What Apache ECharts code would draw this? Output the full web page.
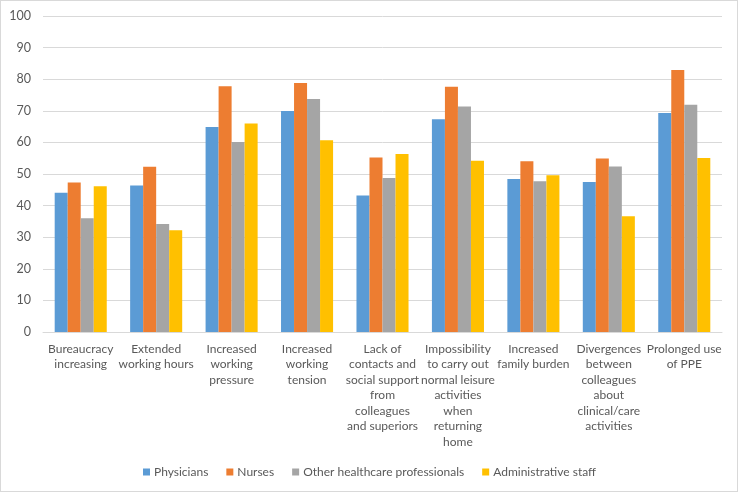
<!DOCTYPE html>
<html><head><meta charset="utf-8">
<script src="https://cdn.jsdelivr.net/npm/echarts@6/dist/echarts.min.js"></script>
<style>html,body{margin:0;padding:0;background:#fff}#c{width:738px;height:492px;box-sizing:border-box;border:1px solid #d9d9d9}</style>
</head><body><div id="c"></div>
<script>
const categories = ["Bureaucracy\nincreasing","Extended\nworking hours","Increased\nworking\npressure","Increased\nworking\ntension","Lack of\ncontacts and\nsocial support\nfrom\ncolleagues\nand superiors","Impossibility\nto carry out\nnormal leisure\nactivities\nwhen\nreturning\nhome","Increased\nfamily burden","Divergences\nbetween\ncolleagues\nabout\nclinical/care\nactivities","Prolonged use\nof PPE"];
const physicians = [44.1,46.4,64.9,69.9,43.2,67.3,48.4,47.5,69.3];
const nurses = [47.3,52.3,77.8,78.8,55.2,77.6,54.0,54.9,82.9];
const otherHP = [36.0,34.2,60.1,73.7,48.7,71.4,47.7,52.4,71.9];
const adminStaff = [46.1,32.2,66.0,60.7,56.3,54.2,49.6,36.6,55.1];
const seriesNames = ["Physicians","Nurses","Other healthcare professionals","Administrative staff"];
const colors = ["#5B9BD5","#ED7D31","#A5A5A5","#FFC000"];
const font = "Lato,sans-serif";
const chart = echarts.init(document.getElementById('c'));
const data = [physicians,nurses,otherHP,adminStaff];
chart.setOption({
  animation:false,
  textStyle:{fontFamily:font},
  grid:{left:42,right:15,top:15,bottom:159},
  legend:{left:137,top:460,itemWidth:7,itemHeight:7,itemGap:18,icon:'rect',
    textStyle:{fontFamily:font,fontSize:12,color:'#595959',padding:[0,0,0,-1]},data:seriesNames},
  xAxis:{type:'category',data:categories,
    axisLine:{lineStyle:{color:'#d9d9d9'}},axisTick:{show:false},
    axisLabel:{interval:0,fontFamily:font,fontSize:12,color:'#595959',lineHeight:15.5,margin:9}},
  yAxis:{type:'value',min:0,max:100,interval:10,
    axisLabel:{fontFamily:font,fontSize:12.5,color:'#595959',margin:12},
    splitLine:{lineStyle:{color:'#d9d9d9'}}},
  series:data.map((d,i)=>({name:seriesNames[i],type:'bar',data:d,barGap:'0%',barCategoryGap:'31%',
    itemStyle:{color:colors[i]}}))
});
</script></body></html>
